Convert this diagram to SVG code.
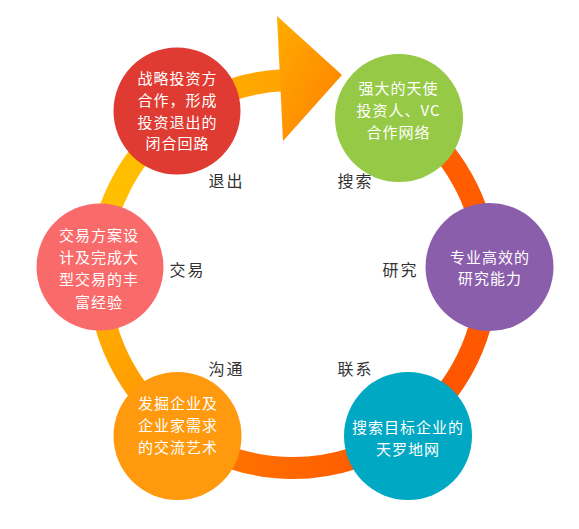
<svg xmlns="http://www.w3.org/2000/svg" width="579" height="529" viewBox="0 0 579 529">
  <style>
    .ring { fill: none; stroke-width: 22; }
    .ct { font-family: "Noto Sans CJK SC", "Noto Sans", sans-serif; font-size: 15px; fill: #ffffff; text-anchor: middle; letter-spacing: 1px; }
    .lb { font-family: "Noto Sans CJK SC", "Noto Sans", sans-serif; font-size: 16px; fill: #333333; text-anchor: middle; letter-spacing: 2px; }
  </style>
  <defs>
    <linearGradient id="g1" gradientUnits="userSpaceOnUse" x1="286" y1="80" x2="180" y2="116">
      <stop offset="0" stop-color="#FFA400"/><stop offset="1" stop-color="#FFAE00"/>
    </linearGradient>
    <linearGradient id="g2" gradientUnits="userSpaceOnUse" x1="180" y1="116" x2="99" y2="267">
      <stop offset="0" stop-color="#FFBA00"/><stop offset="1" stop-color="#FFC300"/>
    </linearGradient>
    <linearGradient id="g3" gradientUnits="userSpaceOnUse" x1="99" y1="267" x2="180" y2="432">
      <stop offset="0" stop-color="#FFB400"/><stop offset="1" stop-color="#FF9300"/>
    </linearGradient>
    <linearGradient id="g4" gradientUnits="userSpaceOnUse" x1="180" y1="432" x2="406" y2="432">
      <stop offset="0" stop-color="#FF7A00"/><stop offset="1" stop-color="#FF5500"/>
    </linearGradient>
    <linearGradient id="g5" gradientUnits="userSpaceOnUse" x1="406" y1="432" x2="487" y2="267">
      <stop offset="0" stop-color="#FF5500"/><stop offset="1" stop-color="#FF5A00"/>
    </linearGradient>
    <linearGradient id="g6" gradientUnits="userSpaceOnUse" x1="487" y1="267" x2="402" y2="113">
      <stop offset="0" stop-color="#FF5A00"/><stop offset="1" stop-color="#FF6000"/>
    </linearGradient>
    <linearGradient id="ga" x1="0" y1="0" x2="1" y2="1">
      <stop offset="0" stop-color="#FFAC00"/><stop offset="1" stop-color="#FF7E00"/>
    </linearGradient>
  </defs>

  <g id="connectors">
    <path class="ring" stroke="url(#g6)" d="M486.9,267.2 A194,194 0 0 0 402.0,113.5"/>
    <path class="ring" stroke="url(#g5)" d="M405.9,431.7 A194,194 0 0 0 486.9,267.2"/>
    <path class="ring" stroke="url(#g4)" d="M180.1,431.7 A194,194 0 0 0 405.9,431.7"/>
    <path class="ring" stroke="url(#g3)" d="M99.1,267.2 A194,194 0 0 0 180.1,431.7"/>
    <path class="ring" stroke="url(#g2)" d="M180.1,116.3 A194,194 0 0 0 99.1,267.2"/>
    <path class="ring" stroke="url(#g1)" d="M286.2,80.1 A194,194 0 0 0 180.1,116.3"/>
    <polygon id="arrowhead" points="277,16 342,75 283,141" fill="url(#ga)"/>
  </g>

  <g id="node-exit">
    <circle cx="177" cy="111" r="63.5" fill="#E03B32"/>
    <text class="ct" x="177.5" y="84">战略投资方</text>
    <text class="ct" x="177.5" y="106">合作，形成</text>
    <text class="ct" x="177.5" y="128">投资退出的</text>
    <text class="ct" x="177.5" y="149">闭合回路</text>
  </g>
  <g id="node-angel">
    <circle cx="399" cy="118" r="64" fill="#96C945"/>
    <text class="ct" x="398.5" y="94">强大的天使</text>
    <text class="ct" x="398.5" y="116">投资人、VC</text>
    <text class="ct" x="398.5" y="138">合作网络</text>
  </g>
  <g id="node-deal">
    <circle cx="100" cy="267" r="63.5" fill="#F96A6A"/>
    <text class="ct" x="99" y="241">交易方案设</text>
    <text class="ct" x="99" y="263">计及完成大</text>
    <text class="ct" x="99" y="285">型交易的丰</text>
    <text class="ct" x="99" y="308">富经验</text>
  </g>
  <g id="node-research">
    <circle cx="489.5" cy="267" r="64" fill="#8B5EAB"/>
    <text class="ct" x="490" y="263">专业高效的</text>
    <text class="ct" x="490" y="284">研究能力</text>
  </g>
  <g id="node-communicate">
    <circle cx="177.5" cy="436" r="64" fill="#FF9A0E"/>
    <text class="ct" x="178" y="409">发掘企业及</text>
    <text class="ct" x="178" y="431">企业家需求</text>
    <text class="ct" x="178" y="453">的交流艺术</text>
  </g>
  <g id="node-search">
    <circle cx="408" cy="436" r="64" fill="#00A8C3"/>
    <text class="ct" x="408" y="433">搜索目标企业的</text>
    <text class="ct" x="408" y="455">天罗地网</text>
  </g>

  <g id="labels">
    <text class="lb" x="226.5" y="187">退出</text>
    <text class="lb" x="355.5" y="187">搜索</text>
    <text class="lb" x="187.5" y="275.5">交易</text>
    <text class="lb" x="400.5" y="275.5">研究</text>
    <text class="lb" x="226.5" y="375">沟通</text>
    <text class="lb" x="355.5" y="375">联系</text>
  </g>
</svg>
